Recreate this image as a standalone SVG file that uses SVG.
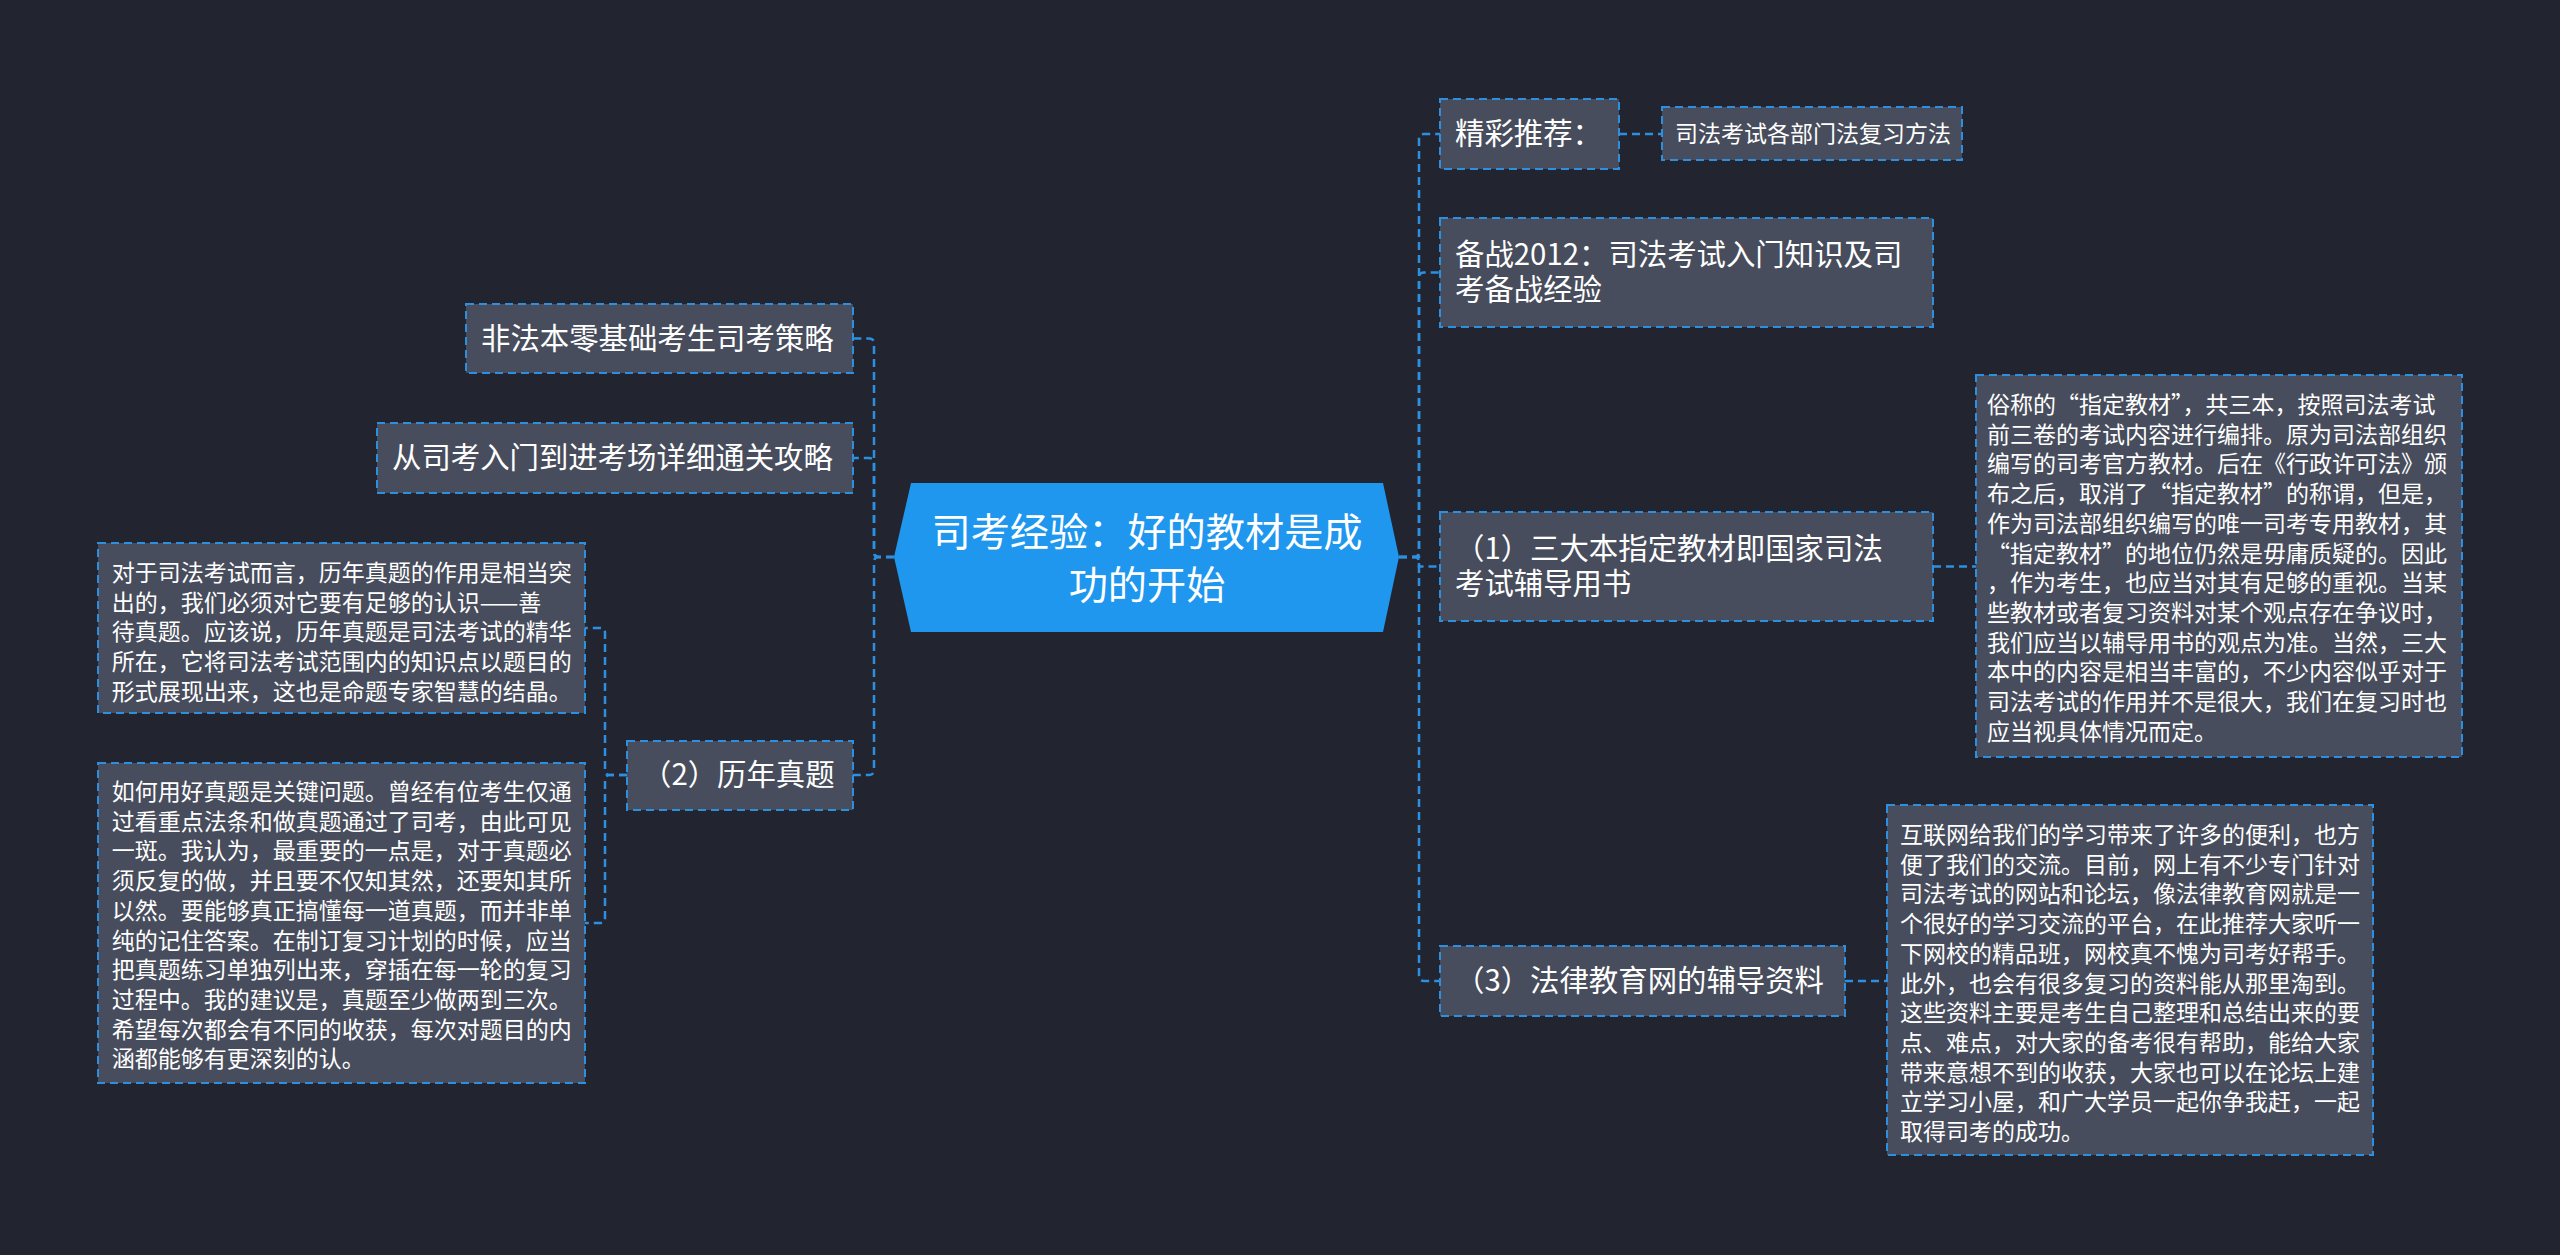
<svg xmlns="http://www.w3.org/2000/svg" width="2560" height="1255" viewBox="0 0 2560 1255">
<style>
.bg{fill:#22252f}
.box{fill:#474d5c;stroke:#2d8fdf;stroke-width:2;stroke-dasharray:8 5}
.con{fill:none;stroke:#2d8fdf;stroke-width:2.5;stroke-dasharray:8 5}
text{fill:#ffffff;font-family:"Noto Sans CJK SC","Noto Sans",sans-serif}
.lg{font-size:29.4px}
.sm{font-size:23px}
.ct{font-size:39.2px;text-anchor:middle}
</style>
<rect class="bg" x="0" y="0" width="2560" height="1255"/>
<g id="connectors">
<path class="con" d="M894 557 H879 Q874 557 874 552 V343.5 Q874 338.5 869 338.5 H853"/>
<path class="con" d="M894 557 H879 Q874 557 874 552 V463 Q874 458 869 458 H853"/>
<path class="con" d="M894 557 H879 Q874 557 874 562 V770 Q874 775 869 775 H853"/>
<path class="con" d="M627 775 H610 Q605 775 605 770 V633 Q605 628 600 628 H585"/>
<path class="con" d="M627 775 H610 Q605 775 605 780 V918 Q605 923 600 923 H585"/>
<path class="con" d="M1399 557 H1414 Q1419 557 1419 552 V139 Q1419 134 1424 134 H1440"/>
<path class="con" d="M1399 557 H1414 Q1419 557 1419 552 V277.5 Q1419 272.5 1424 272.5 H1440"/>
<path class="con" d="M1399 557 H1419 V566.5 H1440"/>
<path class="con" d="M1399 557 H1414 Q1419 557 1419 562 V976 Q1419 981 1424 981 H1440"/>
<path class="con" d="M1619 134 H1662"/>
<path class="con" d="M1933 566.5 H1976"/>
<path class="con" d="M1845 981 H1887"/>
</g>
<g id="root">
<polygon points="894,557 911,483 1383,483 1399,557 1383,632 911,632" fill="#1f97ee"/>
<text class="ct" x="1147" y="546">司考经验：好的教材是成</text>
<text class="ct" x="1147" y="599">功的开始</text>
</g>
<g id="n-feifa">
<rect class="box" x="466" y="304" width="387" height="69"/>
<text class="lg" x="481" y="348.5">非法本零基础考生司考策略</text>
</g>
<g id="n-congsikao">
<rect class="box" x="377" y="423" width="476" height="70"/>
<text class="lg" x="392" y="468">从司考入门到进考场详细通关攻略</text>
</g>
<g id="n-linian">
<rect class="box" x="627" y="741" width="226" height="69"/>
<text class="lg" x="642" y="785">（2）历年真题</text>
</g>
<g id="n-duiyu">
<rect class="box" x="98" y="543" width="487" height="170"/>
<text class="sm" x="111.7" y="581">对于司法考试而言，历年真题的作用是相当突</text>
<text class="sm" x="111.7" y="610.7">出的，我们必须对它要有足够的认识——善</text>
<text class="sm" x="111.7" y="640.4">待真题。应该说，历年真题是司法考试的精华</text>
<text class="sm" x="111.7" y="670.1">所在，它将司法考试范围内的知识点以题目的</text>
<text class="sm" x="111.7" y="699.8">形式展现出来，这也是命题专家智慧的结晶。</text>
</g>
<g id="n-ruhe">
<rect class="box" x="98" y="763" width="487" height="320"/>
<text class="sm" x="111.7" y="800">如何用好真题是关键问题。曾经有位考生仅通</text>
<text class="sm" x="111.7" y="829.7">过看重点法条和做真题通过了司考，由此可见</text>
<text class="sm" x="111.7" y="859.4">一斑。我认为，最重要的一点是，对于真题必</text>
<text class="sm" x="111.7" y="889.1">须反复的做，并且要不仅知其然，还要知其所</text>
<text class="sm" x="111.7" y="918.8">以然。要能够真正搞懂每一道真题，而并非单</text>
<text class="sm" x="111.7" y="948.5">纯的记住答案。在制订复习计划的时候，应当</text>
<text class="sm" x="111.7" y="978.2">把真题练习单独列出来，穿插在每一轮的复习</text>
<text class="sm" x="111.7" y="1007.9">过程中。我的建议是，真题至少做两到三次。</text>
<text class="sm" x="111.7" y="1037.6">希望每次都会有不同的收获，每次对题目的内</text>
<text class="sm" x="111.7" y="1067.3">涵都能够有更深刻的认。</text>
</g>
<g id="n-jingcai">
<rect class="box" x="1440" y="99" width="179" height="70"/>
<text class="lg" x="1455" y="144">精彩推荐：</text>
</g>
<g id="n-sifa">
<rect class="box" x="1662" y="107" width="300" height="53"/>
<text class="sm" x="1675" y="141.5">司法考试各部门法复习方法</text>
</g>
<g id="n-beizhan">
<rect class="box" x="1440" y="218" width="493" height="109"/>
<text class="lg" x="1455" y="265">备战2012：司法考试入门知识及司</text>
<text class="lg" x="1455" y="300">考备战经验</text>
</g>
<g id="n-sandaben">
<rect class="box" x="1440" y="512" width="493" height="109"/>
<text class="lg" x="1455" y="559">（1）三大本指定教材即国家司法</text>
<text class="lg" x="1455" y="594">考试辅导用书</text>
</g>
<g id="n-suchen">
<rect class="box" x="1976" y="375" width="486" height="382"/>
<text class="sm" x="1987" y="413">俗称的“指定教材”，共三本，按照司法考试</text>
<text class="sm" x="1987" y="442.7">前三卷的考试内容进行编排。原为司法部组织</text>
<text class="sm" x="1987" y="472.4">编写的司考官方教材。后在《行政许可法》颁</text>
<text class="sm" x="1987" y="502.1">布之后，取消了“指定教材”的称谓，但是，</text>
<text class="sm" x="1987" y="531.8">作为司法部组织编写的唯一司考专用教材，其</text>
<text class="sm" x="1987" y="561.5">“指定教材”的地位仍然是毋庸质疑的。因此</text>
<text class="sm" x="1987" y="591.2">，作为考生，也应当对其有足够的重视。当某</text>
<text class="sm" x="1987" y="620.9">些教材或者复习资料对某个观点存在争议时，</text>
<text class="sm" x="1987" y="650.6">我们应当以辅导用书的观点为准。当然，三大</text>
<text class="sm" x="1987" y="680.3">本中的内容是相当丰富的，不少内容似乎对于</text>
<text class="sm" x="1987" y="710">司法考试的作用并不是很大，我们在复习时也</text>
<text class="sm" x="1987" y="739.7">应当视具体情况而定。</text>
</g>
<g id="n-fazhi">
<rect class="box" x="1440" y="946" width="405" height="70"/>
<text class="lg" x="1455" y="991">（3）法律教育网的辅导资料</text>
</g>
<g id="n-hulianwang">
<rect class="box" x="1887" y="805" width="486" height="350"/>
<text class="sm" x="1900" y="843">互联网给我们的学习带来了许多的便利，也方</text>
<text class="sm" x="1900" y="872.7">便了我们的交流。目前，网上有不少专门针对</text>
<text class="sm" x="1900" y="902.4">司法考试的网站和论坛，像法律教育网就是一</text>
<text class="sm" x="1900" y="932.1">个很好的学习交流的平台，在此推荐大家听一</text>
<text class="sm" x="1900" y="961.8">下网校的精品班，网校真不愧为司考好帮手。</text>
<text class="sm" x="1900" y="991.5">此外，也会有很多复习的资料能从那里淘到。</text>
<text class="sm" x="1900" y="1021.2">这些资料主要是考生自己整理和总结出来的要</text>
<text class="sm" x="1900" y="1050.9">点、难点，对大家的备考很有帮助，能给大家</text>
<text class="sm" x="1900" y="1080.6">带来意想不到的收获，大家也可以在论坛上建</text>
<text class="sm" x="1900" y="1110.3">立学习小屋，和广大学员一起你争我赶，一起</text>
<text class="sm" x="1900" y="1140">取得司考的成功。</text>
</g>
</svg>
